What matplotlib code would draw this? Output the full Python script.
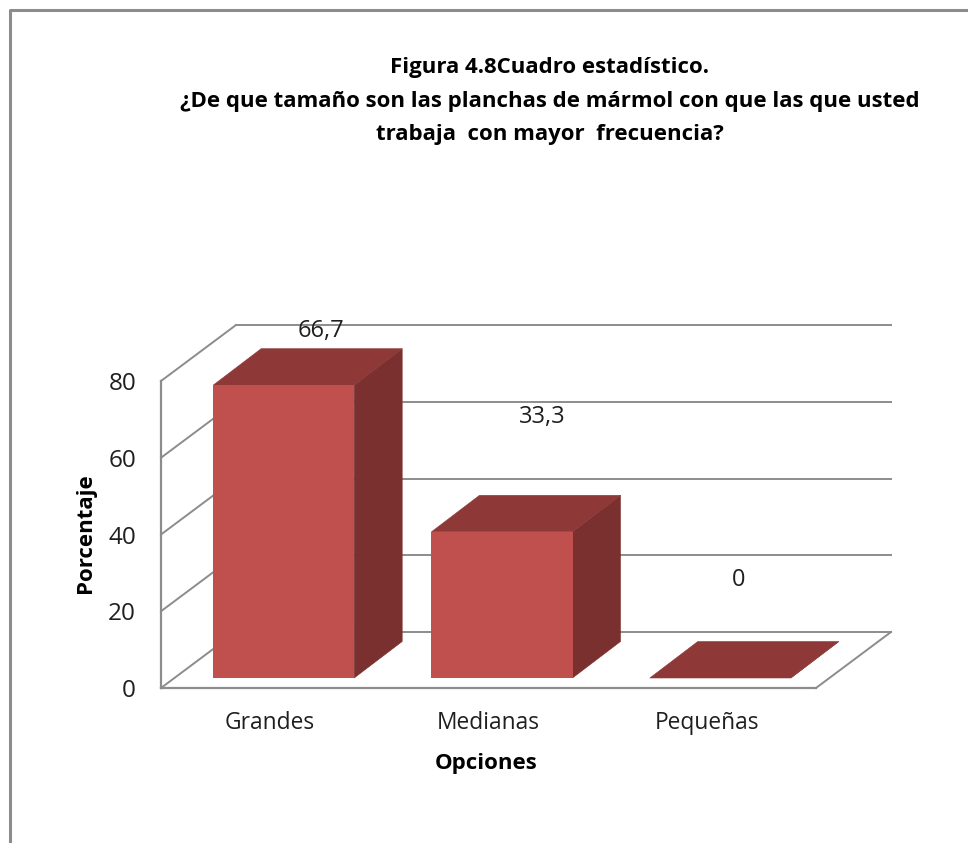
import matplotlib
matplotlib.use('Agg')
import matplotlib.pyplot as plt
import numpy as np
from matplotlib.lines import Line2D
from matplotlib.patches import Polygon
from matplotlib.transforms import Affine2D, IdentityTransform

categories = ['Grandes', 'Medianas', 'Pequeñas']
values = [66.7, 33.3, 0]
value_labels = ['66,7', '33,3', '0']
y_ticks = [0, 20, 40, 60, 80]

title = ('Figura 4.8Cuadro estadístico.\n'
         '¿De que tamaño son las planchas de mármol con que las que usted\n'
         'trabaja  con mayor  frecuencia?')

W, H = 968, 843
GRID = '#8C8C8C'
TEXT = '#1f1f1f'
FRONT = '#C0504D'
TOP = '#8E3937'
SIDE = '#7A302E'

# floor depth of the 3d box, and the bars' gap and depth inside it (pixels)
box_depth = (75, 56)
bar_gap = (13.5, 10)
bar_depth = (48, 36.5)
bar_width = 0.646
# bars are drawn taller than the wall scale, 293 px for the 66,7 bar
bar_stretch = 1.144

plt.rcParams['font.family'] = ['Open Sans', 'DejaVu Sans']

fig = plt.figure(figsize=(W / 100, H / 100), dpi=100, facecolor='white')
px = Affine2D().scale(1, -1).translate(0, H)

ax = fig.add_axes([161 / W, (H - 688) / H, 655 / W, 307 / H], facecolor='none')
ax.set_xlim(-0.5, 2.5)
ax.set_ylim(0, 80)
ax.set_xticks(np.arange(len(categories)))
ax.set_xticklabels(categories, fontsize=16.4, color=TEXT)
ax.set_yticks(y_ticks)
ax.set_yticklabels([str(t) for t in y_ticks], fontsize=17.5, color=TEXT)
ax.tick_params(axis='x', length=0, pad=16.5)
ax.tick_params(axis='y', length=0, pad=18)
for side in ['top', 'right']:
    ax.spines[side].set_visible(False)
for side in ['left', 'bottom']:
    ax.spines[side].set_color(GRID)
    ax.spines[side].set_linewidth(1.6)


def depth_line(x, y):
    # diagonal running from the front plane to the back wall
    x0, y0 = ax.transData.transform((x, y))
    ax.add_line(Line2D([x0, x0 + box_depth[0]], [y0, y0 + box_depth[1]], color=GRID,
                       lw=1.4, transform=IdentityTransform(), clip_on=False, zorder=1))


back = ax.transData + Affine2D().translate(*box_depth)
for t in y_ticks:
    ax.plot([-0.5, 2.5], [t, t], color=GRID, lw=1.4, transform=back,
            clip_on=False, zorder=1)
    depth_line(-0.5, t)
depth_line(2.5, 0)

front = ax.transData + Affine2D().translate(*bar_gap)
dx, dy = bar_depth
for i, v in enumerate(values):
    h = v * bar_stretch
    (xl, yb), (xr, yt) = front.transform([(i - bar_width / 2, 0), (i + bar_width / 2, h)])
    ax.add_patch(Polygon([(xr, yb), (xr + dx, yb + dy), (xr + dx, yt + dy), (xr, yt)],
                         facecolor=SIDE, edgecolor=SIDE, linewidth=0.4,
                         transform=IdentityTransform(), clip_on=False, zorder=3))
    ax.add_patch(Polygon([(xl, yt), (xr, yt), (xr + dx, yt + dy), (xl + dx, yt + dy)],
                         facecolor=TOP, edgecolor=TOP, linewidth=0.4,
                         transform=IdentityTransform(), clip_on=False, zorder=3))
    ax.bar(i, h, bar_width, color=FRONT, linewidth=0, transform=front, clip_on=False, zorder=4)

# data labels sit where they were dragged by hand
label_pos = [(321, 331), (542, 417), (739, 580)]
for text, (lx, ly) in zip(value_labels, label_pos):
    fig.text(lx, ly, text, transform=px, fontsize=17, color=TEXT, ha='center',
             va='center', zorder=5)

fig.text(550, 101, title, transform=px, fontsize=16, fontweight='bold', color='black',
         ha='center', va='center', linespacing=1.8)
fig.text(486, 763, 'Opciones', transform=px, fontsize=16, fontweight='bold',
         color='black', ha='center', va='center')
fig.text(86, 533, 'Porcentaje', transform=px, fontsize=16, fontweight='bold',
         color='black', ha='center', va='center', rotation=90)

# outer frame of the chart area, cut off at the right and bottom
fig.add_artist(Line2D([9.5, 9.5, W], [H, 9.5, 9.5], color=GRID, lw=2.2, transform=px))

fig.savefig('out.png', dpi=100)
plt.close()
